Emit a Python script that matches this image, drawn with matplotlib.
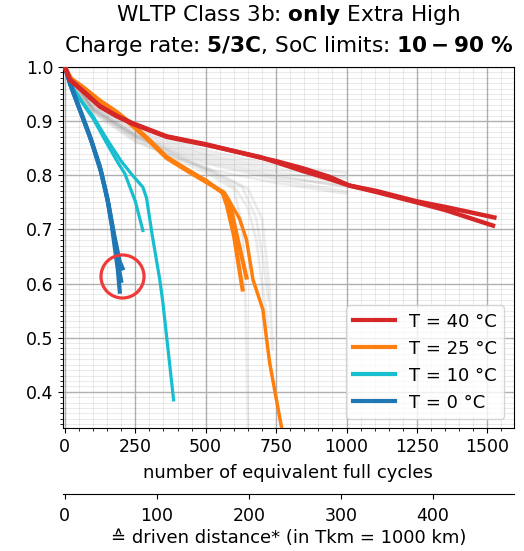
import matplotlib
matplotlib.use("Agg")
import matplotlib.pyplot as plt
from matplotlib.ticker import MultipleLocator, FixedLocator

# km driven per equivalent full cycle (in Tkm)
tkm_per_efc = 0.3063

# T = 40 °C
red_x1 = [0, 18, 64, 124, 184, 241, 361, 503, 691, 751, 844, 940, 1010, 1106, 1248, 1355, 1525]
red_y1 = [1.0, 0.977, 0.956, 0.928, 0.910, 0.896, 0.872, 0.857, 0.833, 0.826, 0.813, 0.797, 0.781, 0.771, 0.752, 0.741, 0.722]
red_x2 = [0, 18, 64, 124, 184, 241, 361, 503, 691, 751, 844, 940, 1010, 1106, 1248, 1355, 1520]
red_y2 = [1.0, 0.976, 0.955, 0.927, 0.909, 0.895, 0.871, 0.856, 0.834, 0.824, 0.808, 0.793, 0.781, 0.769, 0.750, 0.735, 0.707]

# T = 25 °C
orange_x1 = [0, 20, 64, 124, 184, 241, 290, 361, 432, 503, 560, 575, 600, 631]
orange_y1 = [1.0, 0.979, 0.963, 0.938, 0.917, 0.893, 0.870, 0.834, 0.811, 0.789, 0.768, 0.745, 0.690, 0.589]
orange_x2 = [0, 20, 64, 124, 184, 241, 290, 361, 432, 503, 565, 585, 610, 645]
orange_y2 = [1.0, 0.979, 0.962, 0.937, 0.916, 0.891, 0.868, 0.832, 0.809, 0.787, 0.768, 0.750, 0.690, 0.611]
orange_x3 = [0, 20, 64, 124, 184, 241, 290, 361, 432, 503, 574, 620, 645, 668, 703, 727, 769]
orange_y3 = [1.0, 0.979, 0.963, 0.938, 0.917, 0.892, 0.869, 0.833, 0.810, 0.790, 0.761, 0.720, 0.681, 0.607, 0.552, 0.454, 0.335]

# T = 10 °C
cyan_x1 = [0, 20, 60, 100, 150, 190, 213, 250, 277]
cyan_y1 = [1.0, 0.968, 0.935, 0.905, 0.858, 0.822, 0.803, 0.752, 0.698]
cyan_x2 = [0, 20, 60, 100, 150, 200, 240, 277, 290, 310, 337, 348, 386]
cyan_y2 = [1.0, 0.968, 0.937, 0.909, 0.866, 0.826, 0.800, 0.778, 0.758, 0.690, 0.607, 0.565, 0.385]

# T = 0 °C
blue_x1 = [0, 20, 53, 89, 124, 150, 167, 188, 195]
blue_y1 = [1.0, 0.968, 0.922, 0.872, 0.817, 0.760, 0.706, 0.626, 0.585]
blue_x2 = [0, 20, 58, 95, 130, 155, 175, 195, 205]
blue_y2 = [1.0, 0.966, 0.915, 0.862, 0.803, 0.747, 0.690, 0.640, 0.628]
blue_x3 = [0, 20, 55, 92, 127, 152, 171, 190, 200]
blue_y3 = [1.0, 0.967, 0.918, 0.867, 0.810, 0.753, 0.698, 0.632, 0.605]

# other load profiles / charge rates (background)
grey_x = [0, 25, 100, 250, 500, 750, 1000]
grey_long = [
    [1.0, 0.965, 0.930, 0.885, 0.840, 0.812, 0.795],
    [1.0, 0.962, 0.925, 0.876, 0.831, 0.800, 0.778],
    [1.0, 0.960, 0.920, 0.870, 0.822, 0.792, 0.770],
    [1.0, 0.966, 0.935, 0.890, 0.846, 0.818, 0.805],
    [1.0, 0.958, 0.915, 0.862, 0.812, 0.786, 0.766],
    [1.0, 0.963, 0.928, 0.880, 0.836, 0.806, 0.786],
    [1.0, 0.961, 0.922, 0.874, 0.826, 0.796, 0.781],
]
grey_drop_x = [
    [0, 100, 250, 500, 600, 650, 680, 700, 722],
    [0, 100, 250, 500, 600, 632, 642, 647, 650],
    [0, 100, 250, 500, 650, 700, 725, 738],
    [0, 100, 250, 500, 630, 680, 705, 722],
]
grey_drop_y = [
    [1.0, 0.920, 0.870, 0.810, 0.780, 0.740, 0.680, 0.600, 0.520],
    [1.0, 0.918, 0.865, 0.805, 0.775, 0.700, 0.560, 0.420, 0.333],
    [1.0, 0.925, 0.875, 0.815, 0.775, 0.720, 0.600, 0.478],
    [1.0, 0.922, 0.872, 0.812, 0.778, 0.720, 0.640, 0.570],
]

# marked end of life at 0 °C
mark_x = [202]
mark_y = [0.613]

fig = plt.figure(figsize=(5.24, 5.51), dpi=100)
ax = fig.add_axes([0.120, 0.2232, 0.860, 0.6552])

for gy in grey_long:
    ax.plot(grey_x, gy, color="grey", alpha=0.14, lw=2)
for gx, gy in zip(grey_drop_x, grey_drop_y):
    ax.plot(gx, gy, color="grey", alpha=0.14, lw=2)

ax.plot(orange_x1, orange_y1, color="#ff7f0e", lw=3, zorder=3)
ax.plot(orange_x2, orange_y2, color="#ff7f0e", lw=3, zorder=3)
ax.plot(orange_x3, orange_y3, color="#ff7f0e", lw=2.5, zorder=3)
ax.plot(red_x1, red_y1, color="#d62728", lw=3.2, zorder=4)
ax.plot(red_x2, red_y2, color="#d62728", lw=3.2, zorder=4)
ax.plot(cyan_x1, cyan_y1, color="#17becf", lw=2.3, zorder=3)
ax.plot(cyan_x2, cyan_y2, color="#17becf", lw=2.3, zorder=3)
ax.plot(blue_x1, blue_y1, color="#1f77b4", lw=3, zorder=3)
ax.plot(blue_x2, blue_y2, color="#1f77b4", lw=3, zorder=3)
ax.plot(blue_x3, blue_y3, color="#1f77b4", lw=3, zorder=3)

# legend handles
for c, lab in [("#d62728", "T = 40 °C"), ("#ff7f0e", "T = 25 °C"),
               ("#17becf", "T = 10 °C"), ("#1f77b4", "T = 0 °C")]:
    ax.plot([], [], color=c, lw=3, label=lab)

ax.plot(mark_x, mark_y, "o", ms=31, mfc="none", mec="#f03a3a", mew=2.3, zorder=5)

ax.set_xlim(-7, 1593)
ax.set_ylim(0.333, 1.0)
ax.xaxis.set_major_locator(MultipleLocator(250))
ax.xaxis.set_minor_locator(MultipleLocator(50))
ax.yaxis.set_major_locator(MultipleLocator(0.1))
ax.yaxis.set_minor_locator(MultipleLocator(0.01))
ax.grid(which="major", color="#b0b0b0", lw=1)
ax.grid(which="minor", color="black", alpha=0.08, lw=0.8)
ax.set_axisbelow(True)
ax.tick_params(labelsize=12.5)
ax.set_xlabel("number of equivalent full cycles", fontsize=13, labelpad=6)

sec = ax.secondary_xaxis(-0.183, functions=(lambda c: c * tkm_per_efc,
                                            lambda d: d / tkm_per_efc))
sec.xaxis.set_major_locator(FixedLocator([0, 100, 200, 300, 400]))
sec.tick_params(labelsize=12.5, pad=6)
sec.set_xlabel("≙ driven distance* (in Tkm = 1000 km)", fontsize=13, labelpad=3)

ax.set_title("WLTP Class 3b: $\\bf{only}$ Extra High\n"
             "Charge rate: $\\bf{5/3C}$, SoC limits: $\\bf{10-90\\ \\%}$",
             fontsize=15.6, pad=11, linespacing=1.35)
ax.legend(loc="lower right", fontsize=13, handlelength=2.3)

fig.savefig("out.png", dpi=100)
